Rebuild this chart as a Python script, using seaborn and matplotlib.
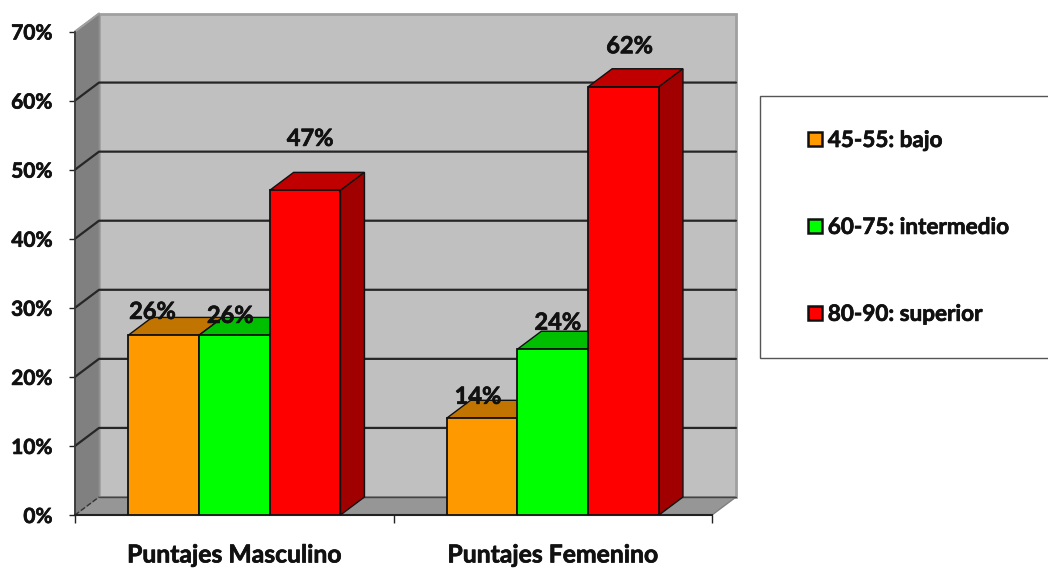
import numpy as np
import pandas as pd
import seaborn as sns
import matplotlib.pyplot as plt
import matplotlib.patheffects as pe
from matplotlib.patches import Polygon, Rectangle

# values
grupos = ["Puntajes Masculino", "Puntajes Femenino"]
rangos = ["45-55: bajo", "60-75: intermedio", "80-90: superior"]
bajo = [26, 14]
intermedio = [26, 24]
superior = [47, 62]
yticks = [0, 10, 20, 30, 40, 50, 60, 70]

colores = {"45-55: bajo": "#ff9900", "60-75: intermedio": "#00ff00", "80-90: superior": "#ff0000"}
tapas = {"45-55: bajo": "#c27400", "60-75: intermedio": "#00bf00", "80-90: superior": "#c00000"}
lados = {"45-55: bajo": "#a46200", "60-75: intermedio": "#00a000", "80-90: superior": "#a00000"}

# nudge of each value label from its bar top, in px, as the original has them placed by hand
nudges = [[(-11, 24), (-4, 20), (5, 52)], [(-4, 22), (5, 27), (6, 41)]]

W, H = 1048, 568
df = pd.DataFrame({"grupo": grupos * 3,
                   "rango": np.repeat(rangos, 2),
                   "valor": bajo + intermedio + superior})

sns.set_theme(style="white")
plt.rcParams["font.family"] = ["Lato", "DejaVu Sans"]
plt.rcParams["font.weight"] = "bold"
heavy = [pe.withStroke(linewidth=0.5, foreground="#111111")]

fig = plt.figure(figsize=(W / 100, H / 100), dpi=100)
ax = fig.add_axes([75 / W, 1 - 515 / H, (712 - 75) / W, (515 - 31.5) / H])
ax.patch.set_alpha(0)

sns.barplot(data=df, x="grupo", y="valor", hue="rango", order=grupos, hue_order=rangos,
            palette=colores, width=0.667, gap=0, saturation=1, edgecolor="#111111", linewidth=1.3, ax=ax)
ax.set_xlim(-0.5, 1.5)
ax.set_ylim(0, 70)

# depth of the fake 3d box, as data units
dx = 24 / ((712 - 75) / 2)
dy = 18 / ((515 - 31.5) / 70)
x0, x1 = -0.5, 1.5

ax.add_patch(Rectangle((x0 + dx, dy), x1 - x0, 70, fc="#c0c0c0", ec="#a0a0a0", lw=2, zorder=1, clip_on=False))
ax.add_patch(Polygon([(x0, 0), (x0, 70), (x0 + dx, 70 + dy), (x0 + dx, dy)], fc="#808080", ec="#8a8a8a", lw=1, zorder=1.1, clip_on=False))
ax.add_patch(Polygon([(x0, 0), (x1, 0), (x1 + dx, dy), (x0 + dx, dy)], fc="#969696", ec="#808080", lw=1, zorder=1.1, clip_on=False))
for v in yticks[1:-1]:
    ax.plot([x0, x0 + dx, x1 + dx], [v, v + dy, v + dy], color="#262626", lw=1.6, zorder=1.2, clip_on=False)
ax.plot([x0, x0 + dx], [0, dy], color="#333333", lw=1, ls="--", zorder=1.2, clip_on=False)
ax.plot([x0 + dx, x1 + dx], [dy, dy], color="#444444", lw=1, zorder=1.2, clip_on=False)
ax.plot([x0, x0 + dx], [70, 70 + dy], color="#a0a0a0", lw=1.5, zorder=1.2, clip_on=False)

# top and side faces, left to right so the next bar hides the one before
bars = []
for i, cont in enumerate(ax.containers):
    for j, bar in enumerate(cont):
        bars.append((bar.get_x(), rangos[i], bar, nudges[j][i]))
bars.sort(key=lambda b: b[0])
for n, (x, rango, bar, nudge) in enumerate(bars):
    w = bar.get_width()
    h = bar.get_height()
    z = 3 + n
    ax.add_patch(Polygon([(x, h), (x + w, h), (x + w + dx, h + dy), (x + dx, h + dy)],
                         fc=tapas[rango], ec="#111111", lw=1, zorder=z, clip_on=False))
    ax.add_patch(Polygon([(x + w, 0), (x + w, h), (x + w + dx, h + dy), (x + w + dx, dy)],
                         fc=lados[rango], ec="#111111", lw=1, zorder=z, clip_on=False))
    bar.set_zorder(z + 0.5)
    ax.annotate(f"{h:.0f}%", (x + w / 2, h), xytext=(nudge[0] * 0.72, nudge[1] * 0.72),
                textcoords="offset points", ha="center", va="center",
                fontsize=17, fontweight="bold", color="#111111", zorder=30, path_effects=heavy)

sns.despine(ax=ax, top=True, right=True)
ax.spines["left"].set_color("#333333")
ax.spines["bottom"].set_color("#222222")
ax.spines["bottom"].set_linewidth(1.5)
ax.spines["left"].set_zorder(2)

ax.set_xlabel("")
ax.set_ylabel("")
ax.set_yticks(yticks)
ax.set_yticklabels([f"{v}%" for v in yticks], fontsize=15, fontweight="bold", color="#111111", path_effects=heavy)
ax.tick_params(axis="y", length=4.3, width=1, color="#222222", pad=12, left=True)
ax.set_xticks([-0.5, 0.5, 1.5])
ax.set_xticks([0, 1], grupos, minor=True, fontsize=17.8, fontweight="bold", color="#111111", path_effects=heavy)
ax.set_xticklabels([])
ax.tick_params(axis="x", which="major", length=5.5, width=1, color="#222222", bottom=True)
ax.tick_params(axis="x", which="minor", length=0, pad=20.5)

# legend box runs off the right edge of the image
fig.add_artist(Rectangle((759.5 / W, 1 - 358 / H), 300 / W, 262 / H, fc="white", ec="#555555", lw=1,
                         transform=fig.transFigure, zorder=-1))
handles, labels = ax.get_legend_handles_labels()
leg = ax.legend(handles, labels, frameon=False, loc="upper left",
                bbox_to_anchor=(808 / W, 1 - 130 / H), bbox_transform=fig.transFigure,
                borderpad=0, borderaxespad=0, labelspacing=2.93, fontsize=16.2,
                handlelength=0.63, handleheight=0.63, handletextpad=0.25)
for t in leg.get_texts():
    t.set_color("#111111")
    t.set_fontweight("bold")
    t.set_path_effects(heavy)
for p in leg.get_patches():
    p.set_edgecolor("#111111")
    p.set_linewidth(1.8)

fig.savefig("out.png", dpi=100)
